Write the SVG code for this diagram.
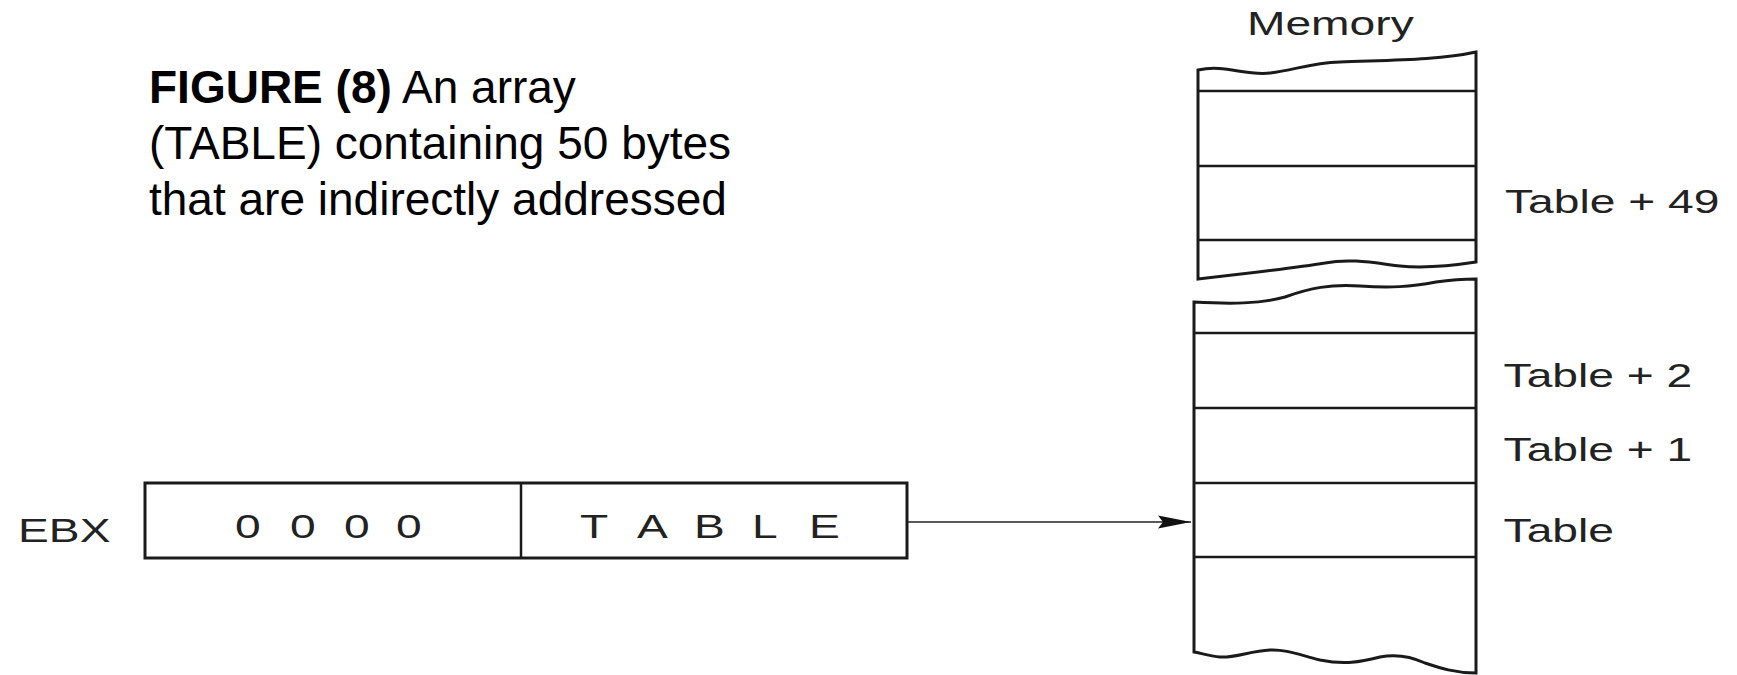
<svg xmlns="http://www.w3.org/2000/svg" width="1737" height="675" viewBox="0 0 1737 675">
  <style>
    .title { font-family: "Liberation Sans", Arial, sans-serif; font-size: 46px; fill: #000; }
    .bold { font-weight: bold; }
    .lbl { font-family: "Liberation Sans", Arial, sans-serif; font-size: 33px; fill: #222; }
    .frame { fill: none; stroke: #1a1a1a; stroke-width: 3; stroke-linejoin: miter; }
    .row { stroke: #1a1a1a; stroke-width: 2.5; }
    .conn { stroke: #222; stroke-width: 1.6; fill: none; }
  </style>
  <defs>
    <marker id="arrow" markerUnits="userSpaceOnUse" markerWidth="34" markerHeight="16" refX="33" refY="8" orient="auto">
      <polygon points="33,8 0,1.5 5,8 0,14.5" fill="#111"/>
    </marker>
  </defs>
  <rect width="1737" height="675" fill="#fff"/>

  <g id="title">
    <text class="title" x="149" y="103"><tspan class="bold">FIGURE (8)</tspan> An array</text>
    <text class="title" x="149" y="159">(TABLE) containing 50 bytes</text>
    <text class="title" x="149" y="215">that are indirectly addressed</text>
  </g>

  <g id="ebx-register">
    <text class="lbl" transform="scale(1.4 1)" x="12.9" y="542">EBX</text>
    <rect class="frame" x="145" y="483" width="762" height="75"/>
    <line class="row" x1="521" y1="483" x2="521" y2="558"/>
    <text class="lbl" transform="scale(1.4 1)" x="167.9 185 207.1 224 245.7 263 282.9" y="538">0 0 0 0</text>
    <text class="lbl" transform="scale(1.4 1)" x="414.3 434 455 475 495.7 516 537.1 557 577.9" y="538">T A B L E</text>
  </g>

  <g id="memory">
    <text class="lbl" transform="scale(1.4 1)" x="890.7" y="35">Memory</text>
    <g id="memory-upper">
      <path class="frame" d="M1198,70 C1225,64 1245,76 1270,73 C1295,70 1310,63 1340,62 C1390,60 1440,60 1476,52 L1476,262 C1450,266 1420,268 1400,266 C1375,263 1350,258 1325,263 C1295,268 1260,272 1198,279 Z"/>
      <line class="row" x1="1198" y1="91" x2="1476" y2="91"/>
      <line class="row" x1="1198" y1="166" x2="1476" y2="166"/>
      <line class="row" x1="1198" y1="240" x2="1476" y2="240"/>
    </g>
    <g id="memory-lower">
      <path class="frame" d="M1194,302 C1230,304 1260,304 1285,297 C1310,288 1330,284 1360,286 C1390,288 1410,287 1436,282 C1450,280 1465,279 1476,279 L1476,673 C1455,673 1440,668 1425,663 C1410,656 1395,654 1380,657 C1360,662 1345,665 1320,660 C1300,655 1285,649 1270,650 C1250,651 1235,658 1220,657 C1210,656 1200,653 1194,652 Z"/>
      <line class="row" x1="1194" y1="333" x2="1476" y2="333"/>
      <line class="row" x1="1194" y1="408" x2="1476" y2="408"/>
      <line class="row" x1="1194" y1="483" x2="1476" y2="483"/>
      <line class="row" x1="1194" y1="557" x2="1476" y2="557"/>
    </g>
  </g>

  <g id="address-labels">
    <text class="lbl" transform="scale(1.4 1)" x="1075" y="213">Table + 49</text>
    <text class="lbl" transform="scale(1.4 1)" x="1074" y="387">Table + 2</text>
    <text class="lbl" transform="scale(1.4 1)" x="1074" y="461">Table + 1</text>
    <text class="lbl" transform="scale(1.4 1)" x="1074" y="542">Table</text>
  </g>

  <g id="connectors">
    <line class="conn" x1="907" y1="522" x2="1191" y2="522" marker-end="url(#arrow)"/>
  </g>
</svg>
